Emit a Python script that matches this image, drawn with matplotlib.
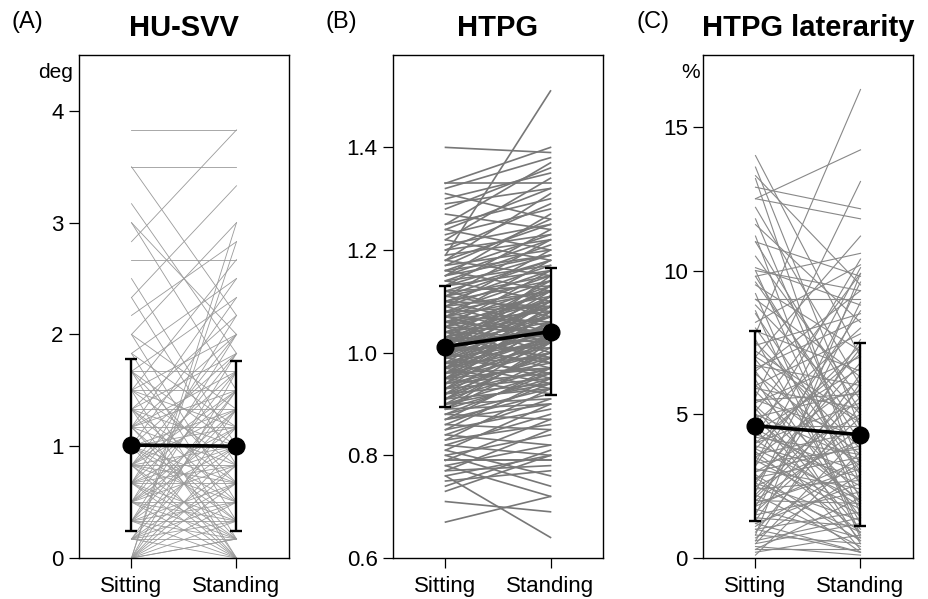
import numpy as np
import matplotlib
matplotlib.use("Agg")
import matplotlib.pyplot as plt

plt.rcParams['font.family'] = ['Liberation Sans', 'DejaVu Sans']

categories = ["Sitting", "Standing"]

# (A) HU-SVV, deg
svv_sit = [3.83, 2.83, 3.5, 3.5, 3.17, 3.0, 3.0, 2.33, 2.0, 2.67, 2.5, 2.33, 2.17, 2.0, 2.0,
           1.83, 1.83, 1.83, 1.67, 1.67, 1.67, 1.67, 1.67, 1.5, 1.5, 1.5, 1.5, 1.5, 1.5,
           1.33, 1.33, 1.33, 1.33, 1.33, 1.33, 1.33, 1.17, 1.17, 1.17, 1.17, 1.17, 1.17, 1.17, 1.17,
           1.0, 1.0, 1.0, 1.0, 1.0, 1.0, 1.0, 1.0, 1.0, 0.83, 0.83, 0.83, 0.83, 0.83, 0.83, 0.83,
           0.83, 0.83, 0.83, 0.67, 0.67, 0.67, 0.67, 0.67, 0.67, 0.67, 0.67, 0.67, 0.67,
           0.5, 0.5, 0.5, 0.5, 0.5, 0.5, 0.5, 0.5, 0.5, 0.5, 0.33, 0.33, 0.33, 0.33, 0.33, 0.33,
           0.33, 0.33, 0.33, 0.17, 0.17, 0.17, 0.17, 0.17, 0.17, 0.17, 0.17,
           0.0, 0.0, 0.0, 0.0, 0.0, 0.0, 0.0, 0.0, 0.0, 0.0, 0.0, 0.0, 0.0]
svv_stand = [3.83, 3.83, 3.5, 2.17, 1.83, 2.0, 1.5, 3.33, 3.0, 2.67, 1.0, 0.83, 2.83, 1.33, 0.5,
             2.5, 1.17, 0.33, 2.33, 1.67, 0.67, 1.0, 0.17, 2.0, 1.5, 0.83, 0.0, 2.67, 1.17,
             1.83, 0.5, 1.33, 2.17, 0.67, 0.0, 1.0, 1.67, 0.33, 2.0, 0.83, 1.17, 0.17, 1.5, 2.5,
             0.67, 1.33, 0.0, 1.83, 0.5, 1.0, 2.33, 0.33, 1.17, 1.5, 0.17, 1.0, 2.0, 0.67, 0.0,
             1.33, 0.5, 1.67, 0.83, 1.17, 0.33, 1.83, 0.0, 1.0, 0.83, 1.5, 0.17, 2.17, 0.67,
             1.33, 0.0, 1.0, 0.5, 1.67, 0.33, 0.83, 2.0, 0.17, 1.17, 0.67, 1.5, 0.0, 1.0, 0.33,
             1.83, 0.5, 0.17, 1.33, 0.83, 0.0, 1.17, 0.5, 0.17, 1.5, 0.33, 0.67,
             1.0, 0.0, 0.33, 1.33, 0.17, 0.67, 0.5, 2.83, 0.83, 1.67, 0.0, 3.0, 0.17]
svv_mean = [1.01, 1.0]
svv_sd = [0.77, 0.76]

# (B) HTPG
htpg_sit = [1.40, 1.33, 1.33, 1.32, 1.31, 1.30, 1.29, 1.28, 1.27, 1.25, 1.25, 1.24, 1.24, 1.23,
            1.22, 1.21, 1.20, 1.19, 1.19, 1.18, 1.18, 1.17, 1.17, 1.16, 1.16, 1.15, 1.15, 1.14,
            1.14, 1.13, 1.13, 1.12, 1.12, 1.11, 1.11, 1.10, 1.10, 1.10, 1.09, 1.09, 1.08, 1.08,
            1.08, 1.07, 1.07, 1.07, 1.06, 1.06, 1.06, 1.05, 1.05, 1.05, 1.04, 1.04, 1.04, 1.03,
            1.03, 1.03, 1.02, 1.02, 1.02, 1.01, 1.01, 1.01, 1.00, 1.00, 1.00, 1.00, 0.99, 0.99,
            0.99, 0.98, 0.98, 0.98, 0.97, 0.97, 0.97, 0.96, 0.96, 0.96, 0.95, 0.95, 0.95, 0.94,
            0.94, 0.93, 0.93, 0.92, 0.92, 0.91, 0.91, 0.90, 0.90, 0.89, 0.89, 0.88, 0.88, 0.87,
            0.87, 0.86, 0.86, 0.85, 0.85, 0.84, 0.84, 0.83, 0.83, 0.82, 0.82, 0.81, 0.81, 0.80,
            0.80, 0.79, 0.79, 0.79, 0.78, 0.78, 0.77, 0.77, 0.76, 0.76, 0.75, 0.74, 0.73, 0.71,
            0.67,
            1.12, 1.11, 1.10, 1.09, 1.09, 1.08, 1.07, 1.07, 1.06, 1.06, 1.05, 1.05, 1.04, 1.04,
            1.03, 1.03, 1.02, 1.02, 1.01, 1.01, 1.00, 1.00, 0.99, 0.99, 0.98, 0.98, 0.97, 0.97,
            0.96, 0.96, 0.95, 0.95, 0.94, 0.94, 0.93, 0.93, 0.92, 0.92, 0.91, 0.91, 0.90, 0.90,
            0.89, 0.89, 0.88, 0.87, 1.13, 1.11, 1.15, 1.14, 1.16, 1.20, 1.22, 1.18, 1.02, 1.00,
            0.97, 0.95]
htpg_stand = [1.39, 1.40, 1.33, 1.38, 1.26, 1.35, 1.32, 1.36, 1.24, 1.37, 1.30, 1.32, 1.20, 1.28,
              1.34, 1.25, 1.29, 1.51, 1.22, 1.31, 1.15, 1.26, 1.20, 1.23, 1.12, 1.27, 1.19, 1.21,
              1.10, 1.24, 1.16, 1.18, 1.13, 1.22, 1.08, 1.17, 1.14, 1.05, 1.20, 1.12, 1.15, 1.09,
              1.03, 1.18, 1.11, 1.06, 1.13, 1.08, 1.00, 1.16, 1.10, 1.04, 1.12, 1.07, 0.99, 1.14,
              1.09, 1.02, 1.11, 1.06, 0.97, 1.13, 1.05, 1.01, 1.08, 1.03, 0.95, 1.15, 1.07, 1.02,
              0.96, 1.10, 1.04, 0.99, 1.06, 1.01, 0.93, 1.09, 1.03, 0.97, 1.05, 1.00, 0.92, 1.08,
              0.98, 1.02, 0.95, 1.04, 0.97, 1.00, 0.93, 1.01, 0.94, 0.99, 0.90, 0.96, 0.87, 0.97,
              0.92, 0.94, 0.85, 0.95, 0.89, 0.91, 0.82, 0.93, 0.86, 0.88, 0.80, 0.90, 0.76, 0.84,
              0.74, 0.79, 0.79, 0.87, 0.82, 0.72, 0.78, 0.85, 0.64, 0.80, 0.77, 0.81, 0.80, 0.69,
              0.72,
              1.07, 1.15, 1.09, 1.04, 1.16, 1.12, 1.02, 1.14, 1.10, 1.04, 1.12, 0.98, 1.09, 1.03,
              1.07, 0.99, 1.09, 1.04, 1.07, 0.98, 1.05, 1.10, 1.04, 1.11, 1.02, 0.94, 1.03, 1.09,
              1.00, 1.06, 1.02, 0.97, 1.03, 0.96, 0.99, 1.06, 1.00, 0.94, 0.97, 1.03, 0.96, 0.91,
              0.95, 1.02, 0.93, 0.90, 1.19, 1.18, 1.22, 1.17, 1.19, 1.23, 1.18, 1.25, 1.13, 1.12,
              1.11, 1.08]
htpg_mean = [1.012, 1.041]
htpg_sd = [0.117, 0.124]

# (C) HTPG laterarity, %
lat_sit = [14.0, 13.6, 13.3, 13.2, 12.9, 12.5, 12.5, 12.2, 11.8, 11.6, 11.2, 11.0, 10.5, 10.1,
           10.0, 9.8, 9.8, 9.5, 9.2, 9.0, 8.8, 8.5, 8.2, 7.8, 7.9, 7.6, 7.4, 7.2, 7.0, 6.9, 6.7,
           6.5, 6.4, 6.2, 6.0, 5.9, 5.8, 5.6, 5.5, 5.4, 5.2, 5.1, 5.0, 4.9, 4.8, 4.7, 4.6, 4.5,
           4.4, 4.3, 4.2, 4.1, 4.0, 3.9, 3.8, 3.7, 3.6, 3.5, 3.4, 3.3, 3.2, 3.1, 3.0, 2.9, 2.8,
           2.7, 2.6, 2.5, 2.4, 2.3, 2.2, 2.1, 2.0, 1.9, 1.8, 1.7, 1.6, 1.5, 1.4, 1.3, 1.2, 1.1,
           1.0, 0.9, 0.8, 0.7, 0.6, 0.5, 0.4, 0.3, 0.2, 0.1, 0.3, 0.6, 1.0, 1.5, 2.0, 2.5, 3.0,
           3.5, 4.0, 4.5, 5.0, 5.5, 6.0, 6.5, 7.0, 8.0, 9.0, 10.0, 11.0, 0.8, 1.2, 2.2, 2.8,
           3.3, 4.2, 5.3, 6.6, 7.5, 8.6, 9.6, 3.8, 2.6, 1.8, 0.5]
lat_stand = [7.0, 4.5, 9.5, 2.5, 12.15, 11.8, 14.2, 6.0, 3.2, 8.2, 1.5, 9.8, 5.5, 8.8,
             2.0, 10.6, 4.0, 7.2, 0.8, 9.0, 5.0, 3.0, 10.2, 16.3, 6.5, 1.2, 8.5, 4.8, 11.2, 2.6, 6.0,
             9.3, 3.6, 0.5, 7.8, 5.2, 2.2, 13.1, 4.2, 7.0, 1.0, 9.9, 3.4, 5.8, 2.0, 8.0, 4.6, 0.3,
             6.6, 3.0, 10.4, 1.8, 5.4, 2.8, 7.4, 0.9, 4.4, 6.2, 1.5, 3.8, 8.6, 2.4, 5.0, 0.6, 3.5,
             6.8, 1.3, 4.1, 2.7, 9.6, 0.4, 5.6, 1.9, 3.1, 7.6, 0.7, 4.9, 2.3, 1.1, 6.4, 0.2, 3.3,
             1.6, 5.3, 0.5, 2.9, 1.4, 4.3, 0.1, 2.1, 0.8, 3.7, 0.3, 6.1, 0.2, 8.9, 4.5, 0.9, 3.9,
             1.7, 7.1, 2.5, 0.6, 5.7, 3.2, 1.4, 4.7, 2.9, 6.3, 9.3, 5.1, 9.9, 2.6, 5.9, 0.2,
             10.1, 3.6, 1.9, 8.3, 3.8, 0.7, 4.4, 2.0, 7.3, 3.4, 1.2]
lat_mean = [4.6, 4.29]
lat_sd = [3.31, 3.18]

panels = [
    ("(A)", "HU-SVV", svv_sit, svv_stand, svv_mean, svv_sd, (0, 4.5), [0, 1, 2, 3, 4],
     ["0", "1", "2", "3", "4"], "deg", '#9a9a9a', 0.6),
    ("(B)", "HTPG", htpg_sit, htpg_stand, htpg_mean, htpg_sd, (0.6, 1.58), [0.6, 0.8, 1.0, 1.2, 1.4],
     ["0.6", "0.8", "1.0", "1.2", "1.4"], "", '#777777', 1.2),
    ("(C)", "HTPG laterarity", lat_sit, lat_stand, lat_mean, lat_sd, (0, 17.5), [0, 5, 10, 15],
     ["0", "5", "10", "15"], "%", '#888888', 0.8),
]

fig = plt.figure(figsize=(9.29, 5.99), dpi=100)
lefts = [79, 393, 703]
x = np.arange(2)

for (tag, title, sit, stand, mean, sd, ylim, yt, ytl, unit, lc, lw), left in zip(panels, lefts):
    ax = fig.add_axes([left / 929, 41 / 599, 210 / 929, 503 / 599])
    for a, b in zip(sit, stand):
        ax.plot(x, [a, b], color=lc, lw=lw, zorder=1)
    ax.errorbar(x, mean, yerr=sd, fmt='none', ecolor='black', elinewidth=1.7,
                capsize=4.5, capthick=1.7, zorder=3)
    ax.plot(x, mean, color='black', lw=2.6, marker='o', markersize=12, zorder=4)
    ax.set_xlim(-0.5, 1.5)
    ax.set_ylim(*ylim)
    ax.set_xticks(x)
    ax.set_xticklabels(categories, fontsize=16)
    ax.set_yticks(yt)
    ax.set_yticklabels(ytl, fontsize=16)
    ax.tick_params(direction='out', length=7, width=0.9, pad=4)
    ax.tick_params(axis='x', pad=6)
    for s in ax.spines.values():
        s.set_linewidth(1.0)
    fig.text((left + 105) / 929, 1 - 28 / 599, title, fontsize=21, fontweight='bold',
             ha='center', va='center')
    fig.text((left - 67) / 929, 1 - 22 / 599, tag, fontsize=17, ha='left', va='center')
    if unit:
        ax.text(-0.11 if unit == "deg" else -0.06, 0.965, unit, transform=ax.transAxes,
                fontsize=15, ha='center', va='center')

fig.savefig("out.png", dpi=100)
